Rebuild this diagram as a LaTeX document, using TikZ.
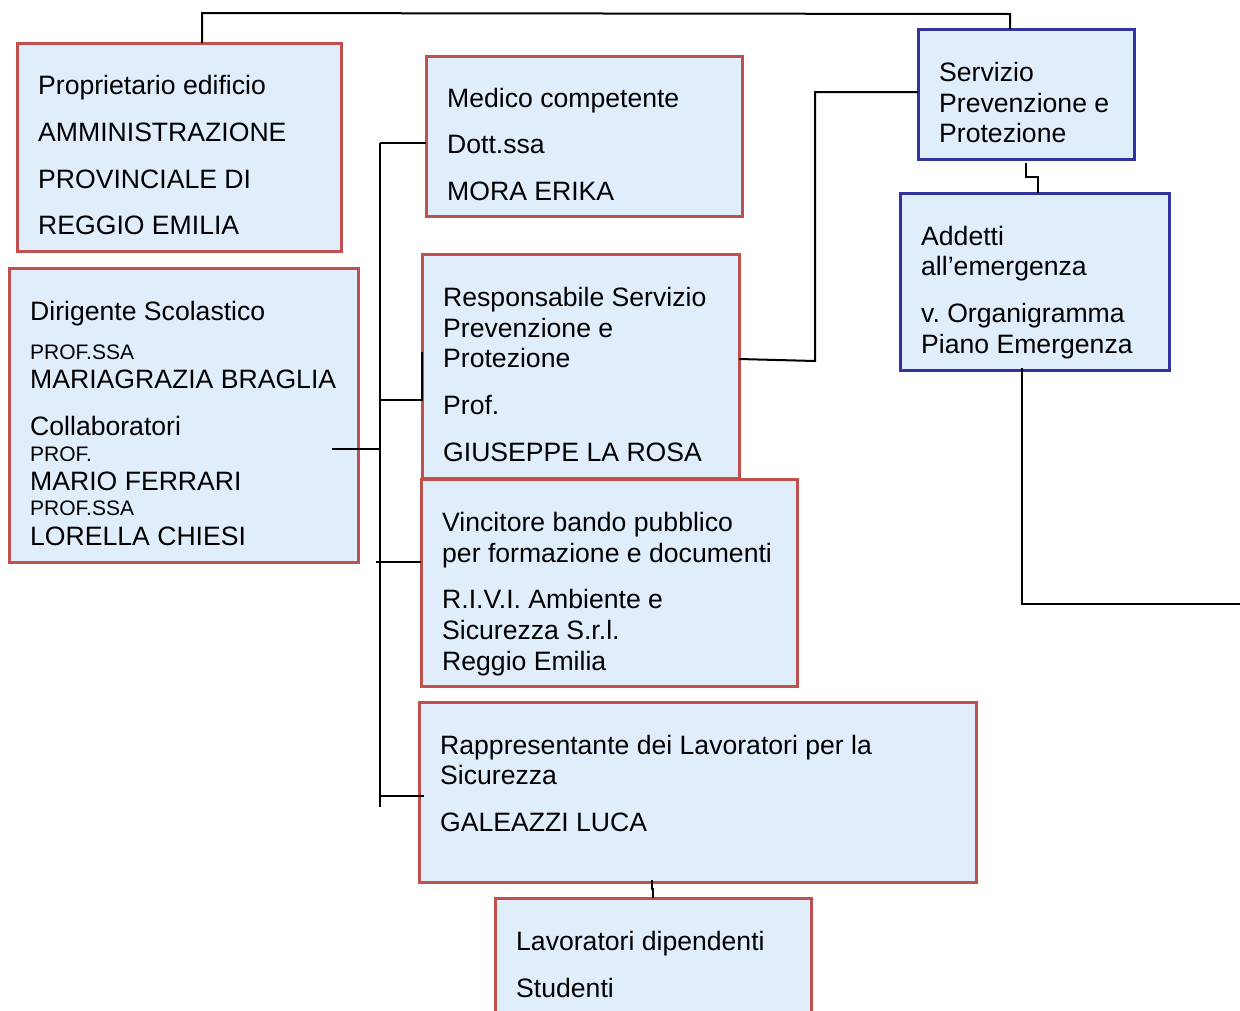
\documentclass[tikz,border=0pt]{standalone}
\usepackage{fontspec}
\setmainfont{Liberation Sans}
\frenchspacing
\definecolor{boxfill}{RGB}{224,238,252}
\definecolor{redline}{RGB}{192,80,77}
\definecolor{blueline}{RGB}{51,51,160}
\begin{document}
\begin{tikzpicture}[x=1pt,y=-1pt,
  redbox/.style={draw=redline,fill=boxfill,line width=3pt,inner sep=0pt,outer sep=0pt,anchor=north west},
  bluebox/.style={draw=blueline,fill=boxfill,line width=3pt,inner sep=0pt,outer sep=0pt,anchor=north west},
  txt/.style={anchor=base west,inner sep=0pt,font=\fontsize{26.6}{31}\selectfont},
  stxt/.style={anchor=base west,inner sep=0pt,font=\fontsize{21}{25}\selectfont},
  conn/.style={draw=black,line width=2pt}]
\useasboundingbox (0,0) rectangle (1240,1010);
\fill[white] (0,0) rectangle (1240,1010);
% boxes
\node[redbox,minimum width=324pt,minimum height=208pt] (b1) at (17,43) {};
\node[redbox,minimum width=316pt,minimum height=160pt] (b2) at (426,56) {};
\node[bluebox,minimum width=216pt,minimum height=130pt] (b3) at (918,29) {};
\node[bluebox,minimum width=269pt,minimum height=177pt] (b4) at (900,193) {};
\node[redbox,minimum width=349pt,minimum height=294pt] (b5) at (9,268) {};
\node[redbox,minimum width=317pt,minimum height=224pt] (b6) at (422,254) {};
\node[redbox,minimum width=376pt,minimum height=207pt] (b7) at (421,479) {};
\node[redbox,minimum width=557pt,minimum height=180pt] (b8) at (419,702) {};
\node[redbox,minimum width=316pt,minimum height=125pt] (b9) at (495,898) {};
% texts
\node[txt] (t1a) at (38,94.5) {Proprietario edificio};
\node[txt] (t1b) at (38,141.5) {AMMINISTRAZIONE};
\node[txt] (t1c) at (38,188.5) {PROVINCIALE DI};
\node[txt] (t1d) at (38,234.5) {REGGIO EMILIA};
\node[txt] (t2a) at (447,107.5) {Medico competente};
\node[txt] (t2b) at (447,153.5) {Dott.ssa};
\node[txt] (t2c) at (447,200.5) {MORA ERIKA};
\node[txt] (t3a) at (939,81.5) {Servizio};
\node[txt] (t3b) at (939,112.5) {Prevenzione e};
\node[txt] (t3c) at (939,142.5) {Protezione};
\node[txt] (t4a) at (921,245.5) {Addetti};
\node[txt] (t4b) at (921,275.5) {all’emergenza};
\node[txt] (t4c) at (921,322.5) {v. Organigramma};
\node[txt] (t4d) at (921,353.5) {Piano Emergenza};
\node[txt] (t5a) at (30,320.5) {Dirigente Scolastico};
\node[stxt] (t5b) at (30,359.5) {PROF.SSA};
\node[txt] (t5c) at (30,388.5) {MARIAGRAZIA BRAGLIA};
\node[txt] (t5d) at (30,435.5) {Collaboratori};
\node[stxt] (t5e) at (30,461.5) {PROF.};
\node[txt] (t5f) at (30,490.5) {MARIO FERRARI};
\node[stxt] (t5g) at (30,515.5) {PROF.SSA};
\node[txt] (t5h) at (30,545.5) {LORELLA CHIESI};
\node[txt] (t6a) at (443,306.5) {Responsabile Servizio};
\node[txt] (t6b) at (443,337.5) {Prevenzione e};
\node[txt] (t6c) at (443,367.5) {Protezione};
\node[txt] (t6d) at (443,414.5) {Prof.};
\node[txt] (t6e) at (443,461.5) {GIUSEPPE LA ROSA};
\node[txt] (t7a) at (442,531.5) {Vincitore bando pubblico};
\node[txt] (t7b) at (442,562.5) {per formazione e documenti};
\node[txt] (t7c) at (442,608.5) {R.I.V.I. Ambiente e};
\node[txt] (t7d) at (442,639.5) {Sicurezza S.r.l.};
\node[txt] (t7e) at (442,670.5) {Reggio Emilia};
\node[txt] (t8a) at (440,754.5) {Rappresentante dei Lavoratori per la};
\node[txt] (t8b) at (440,784.5) {Sicurezza};
\node[txt] (t8c) at (440,831.5) {GALEAZZI LUCA};
\node[txt] (t9a) at (516,950.5) {Lavoratori dipendenti};
\node[txt] (t9b) at (516,997.5) {Studenti};
% connectors
\coordinate (rightend) at (1240,604);
\draw[conn] (202,0 |- b1.north) -- (202,13) -- (1010,14) -- (1010,0 |- b3.north);
\draw[conn] (b3.west |- 0,92) -- (815,92) -- (815,361) -- (b6.east |- 0,359);
\draw[conn] (1026,163) -- (1026,177) -- (1038,177) -- (1038,0 |- b4.north);
\draw[conn] (1022,368) -- (1022,604) -- (rightend);
\draw[conn] (380,143) -- (380,807);
\draw[conn] (380,143) -- (b2.west |- 0,143);
\draw[conn] (380,400) -- (b6.west |- 0,400) -- (422,352);
\draw[conn] (332,449) -- (380,449);
\draw[conn] (376,562) -- (b7.west |- 0,562);
\draw[conn] (380,796) -- (424,796);
\draw[conn] (652,880) -- (652,889) -- (653,889) -- (653,0 |- b9.north);
\end{tikzpicture}
\end{document}
